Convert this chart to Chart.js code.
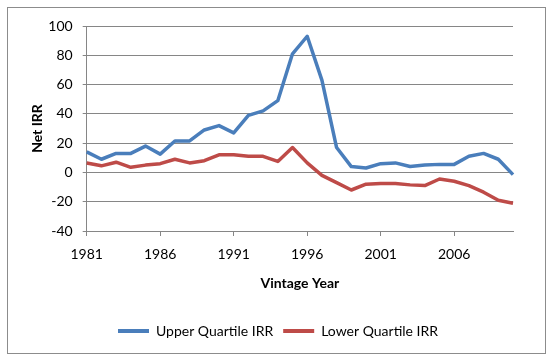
<!DOCTYPE html>
<html>
<head>
<meta charset="utf-8">
<script src="https://cdn.jsdelivr.net/npm/chart.js@4.4.0/dist/chart.umd.min.js"></script>
<style>
  html, body { margin: 0; padding: 0; background: #fff; }
</style>
</head>
<body>
<canvas id="grafico" width="551" height="360"></canvas>
<script>
// Datos
const years = ['1981', '1982', '1983', '1984', '1985', '1986', '1987', '1988', '1989', '1990',
  '1991', '1992', '1993', '1994', '1995', '1996', '1997', '1998', '1999', '2000',
  '2001', '2002', '2003', '2004', '2005', '2006', '2007', '2008', '2009', '2010'];
const upperIRR = [14, 9, 13, 13, 18, 12.5, 21.5, 21.5, 29, 32,
  27, 39, 42, 49, 81, 93, 63, 17, 4, 3,
  6, 6.5, 4, 5, 5.5, 5.5, 11, 13, 9, -1.5];
const lowerIRR = [6.5, 4.5, 7, 3.5, 5, 6, 9, 6.5, 8, 12,
  12, 11, 11, 7.5, 17, 6.5, -2, -7, -12, -8,
  -7.5, -7.5, -8.5, -9, -4.5, -6, -9, -13.5, -19, -21];
const xTickLabels = ['1981', '1986', '1991', '1996', '2001', '2006'];
const yMin = -40;
const yMax = 100;
const yStep = 20;

const fuente = { family: 'Lato, sans-serif', size: 14 };
const fuenteBold = { family: 'Lato, sans-serif', size: 14, weight: 'bold' };
const gris = '#868686';

// Marco exterior del gráfico
const marco = {
  id: 'marco',
  beforeDraw(chart) {
    const ctx = chart.ctx;
    ctx.save();
    ctx.fillStyle = '#fff';
    ctx.fillRect(0, 0, chart.width, chart.height);
    ctx.strokeStyle = '#8c8c8c';
    ctx.lineWidth = 1;
    ctx.strokeRect(7.5, 7.5, 538, 346);
    ctx.restore();
  }
};

const ctx = document.getElementById('grafico').getContext('2d');
const grafico = new Chart(ctx, {
  type: 'line',
  data: {
    labels: years,
    datasets: [{
      label: 'Upper Quartile IRR',
      data: upperIRR,
      borderColor: '#4a7ebb',
      backgroundColor: '#4a7ebb',
      borderWidth: 3.5,
      pointRadius: 0,
      tension: 0,
      borderJoinStyle: 'round'
    }, {
      label: 'Lower Quartile IRR',
      data: lowerIRR,
      borderColor: '#be4b48',
      backgroundColor: '#be4b48',
      borderWidth: 3.5,
      pointRadius: 0,
      tension: 0,
      borderJoinStyle: 'round'
    }]
  },
  options: {
    responsive: false,
    animation: false,
    layout: {
      padding: { left: 43, right: 38, top: 26, bottom: 12 }
    },
    plugins: {
      tooltip: { enabled: false },
      legend: {
        position: 'bottom',
        labels: {
          boxWidth: 31,
          boxHeight: 4,
          padding: 10,
          color: '#000',
          font: fuente,
          generateLabels: function(chart) {
            return Chart.defaults.plugins.legend.labels.generateLabels(chart)
              .map(l => Object.assign(l, { lineWidth: 0 }));
          }
        }
      }
    },
    scales: {
      x: {
        type: 'category',
        offset: false,
        grid: {
          drawOnChartArea: false,
          drawTicks: true,
          tickLength: 5,
          tickColor: c => xTickLabels.includes(years[c.index]) ? gris : 'rgba(0,0,0,0)'
        },
        border: { color: gris },
        ticks: {
          autoSkip: false,
          maxRotation: 0,
          padding: 10,
          color: '#000',
          font: fuente,
          callback: function(value, i) {
            return xTickLabels.includes(years[i]) ? years[i] : '';
          }
        },
        title: {
          display: true,
          text: 'Vintage Year',
          color: '#000',
          font: fuenteBold,
          padding: { top: 4, bottom: 22 }
        },
        afterFit: s => { s.height = 83; }
      },
      y: {
        min: yMin,
        max: yMax,
        grid: { color: gris, tickLength: 4 },
        border: { color: gris },
        ticks: {
          stepSize: yStep,
          padding: 10,
          color: '#000',
          font: fuente
        },
        title: {
          display: true,
          text: 'Net IRR',
          color: '#000',
          font: fuenteBold,
          padding: { top: -14.4, bottom: 4 }
        },
        afterFit: s => { s.width = 43.7; }
      }
    }
  },
  plugins: [marco]
});
</script>
</body>
</html>
